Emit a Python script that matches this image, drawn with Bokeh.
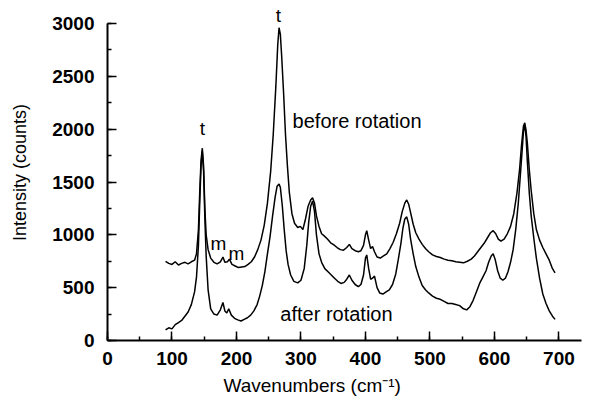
from bokeh.plotting import figure
from bokeh.models import Range1d, SingleIntervalTicker, Title
from bokeh.core.properties import value
from bokeh.embed import file_html
from bokeh.resources import INLINE

# ---- data ----
before_wn = [90, 95, 100, 105, 110, 115, 120, 125, 130, 135, 138, 141, 143, 145, 147, 149, 151, 153, 156, 160,
             165, 170, 175, 179, 182, 186, 189, 193, 198, 203, 208, 213, 218, 223, 228, 233, 238, 243, 248, 253,
             257, 261, 264, 266, 268, 270, 273, 276, 279, 282, 286, 290, 295, 299, 303, 307, 311, 315, 318, 321,
             324, 328, 332, 336, 341, 346, 351, 356, 361, 366, 371, 375, 379, 384, 389, 393, 397, 400, 402, 405,
             408, 411, 414, 418, 423, 428, 433, 438, 443, 448, 453, 457, 461, 464, 467, 470, 474, 478, 483, 488,
             493, 498, 504, 510, 516, 522, 528, 534, 540, 546, 552, 558, 564, 569, 574, 579, 584, 589, 594, 598,
             602, 606, 610, 615, 620, 625, 630, 635, 639, 642, 645, 647, 649, 651, 654, 657, 661, 665, 670, 675,
             680, 685, 690, 694]
before_int = [750, 730, 720, 745, 715, 730, 740, 725, 745, 760, 820, 1050, 1400, 1700, 1820, 1650, 1250, 1000, 860, 780,
              740, 725, 745, 790, 740, 745, 770, 720, 705, 690, 695, 700, 720, 745, 790, 860, 950, 1090, 1300, 1600,
              1950, 2400, 2800, 2960, 2900, 2700, 2350, 1950, 1650, 1400, 1200, 1110, 1070, 1080, 1050, 1150, 1270, 1330, 1350, 1300,
              1180, 1080, 1010, 990, 960, 925, 905, 880, 860, 855, 880, 910, 870, 850, 840, 850, 900, 1000, 1040, 950,
              870, 890, 840, 790, 780, 800, 820, 870, 930, 1010, 1110, 1220, 1300, 1330, 1290, 1210, 1100, 1020, 960, 910,
              870, 840, 810, 795, 785, 770, 760, 755, 745, 740, 735, 750, 770, 800, 840, 880, 920, 970, 1020, 1040,
              1010, 960, 940, 960, 1010, 1080, 1200, 1400, 1620, 1850, 2030, 2060, 1990, 1870, 1620, 1420, 1200, 1050, 950, 880,
              820, 760, 680, 640]

after_wn = [90, 95, 100, 105, 110, 115, 120, 125, 130, 135, 138, 141, 143, 145, 147, 149, 151, 153, 156, 160,
            165, 170, 175, 179, 182, 185, 188, 192, 197, 202, 207, 212, 217, 222, 227, 232, 236, 240, 244, 248,
            252, 256, 260, 263, 266, 268, 271, 274, 277, 280, 284, 289, 295, 300, 305, 309, 312, 315, 318, 321,
            324, 328, 332, 337, 342, 347, 352, 357, 362, 367, 371, 375, 379, 384, 389, 393, 397, 400, 402, 405,
            408, 411, 414, 418, 422, 427, 432, 437, 442, 447, 451, 455, 458, 461, 464, 467, 470, 474, 478, 483,
            488, 493, 498, 504, 510, 516, 522, 528, 534, 540, 546, 552, 557, 562, 567, 572, 577, 582, 587, 591,
            595, 598, 601, 605, 609, 613, 617, 621, 625, 629, 633, 637, 640, 643, 645, 647, 649, 651, 654, 657,
            661, 665, 670, 675, 680, 685, 690, 694]
after_int = [100, 120, 110, 150, 170, 190, 230, 270, 340, 460, 600, 900, 1300, 1650, 1790, 1600, 1150, 800, 480, 300,
             250, 240, 290, 360, 280, 260, 300, 240, 210, 195, 185, 200, 215, 240, 280, 340, 420, 520, 650, 820,
             980, 1180, 1360, 1460, 1480, 1450, 1280, 1050, 850, 720, 620, 560, 545, 570, 680, 900, 1120, 1270, 1320, 1220,
             1000, 820, 740, 680, 650, 620, 590, 560, 540, 550, 580, 620, 570, 530, 510, 530, 620, 780, 810, 680,
             580, 590, 610, 500, 450, 440, 460, 480, 530, 630, 770, 920, 1060, 1150, 1170, 1100, 960, 820, 700, 600,
             520, 480, 450, 420, 400, 390, 370, 350, 350, 340, 330, 300, 290, 320, 380, 460, 540, 600, 660, 740,
             800, 820, 770, 660, 590, 570, 590, 650, 740, 860, 1050, 1300, 1550, 1800, 1980, 2040, 1930, 1700, 1400, 1180,
             970, 780, 590, 440, 350, 280, 230, 200]

peak_labels = ["t", "t", "m", "m"]
peak_x = [147, 265, 172, 200]
peak_y = [2010, 3080, 918, 823]

series_names = ["before rotation", "after rotation"]
series_x = [287, 268]
series_y = [2080, 255]

x_ticks_interval = 100
y_ticks_interval = 500

FONT = "Liberation Sans"

p = figure(width=589, height=410, frame_width=474, frame_height=336,
           x_range=Range1d(0, 735), y_range=Range1d(0, 3180),
           output_backend="svg", toolbar_location=None,
           min_border_left=107, min_border_top=4, min_border_bottom=70, min_border_right=8)
p.outline_line_color = None
p.grid.visible = False
p.background_fill_color = "white"
p.border_fill_color = "white"

p.line(before_wn, before_int, line_color="black", line_width=1.5)
p.line(after_wn, after_int, line_color="black", line_width=1.5)

p.text(x=peak_x, y=peak_y, text=peak_labels, text_font=value(FONT), text_font_size="19px",
       text_align="center", text_baseline="middle", text_color="black")
p.text(x=series_x, y=series_y, text=series_names, text_font=value(FONT), text_font_size="20px",
       text_align="left", text_baseline="middle", text_color="black")

for ax, interval in ((p.xaxis[0], x_ticks_interval), (p.yaxis[0], y_ticks_interval)):
    ax.ticker = SingleIntervalTicker(interval=interval, num_minor_ticks=2)
    ax.axis_line_width = 2
    ax.axis_line_color = "black"
    ax.major_tick_in = 9
    ax.major_tick_out = 0
    ax.minor_tick_in = 4
    ax.minor_tick_out = 0
    ax.major_tick_line_width = 1.5
    ax.minor_tick_line_width = 1.5
    ax.major_label_text_font = FONT
    ax.major_label_text_font_size = "19px"
    ax.major_label_text_font_style = "bold"
    ax.major_label_text_color = "black"
    ax.axis_label_text_font = FONT
    ax.axis_label_text_font_style = "normal"
    ax.axis_label_text_color = "black"

p.yaxis[0].bounds = (0, 3000)
p.xaxis[0].major_label_standoff = 11
p.yaxis[0].major_label_standoff = 13
p.yaxis[0].axis_label = "Intensity (counts)"
p.yaxis[0].axis_label_text_font_size = "18px"
p.yaxis[0].axis_label_standoff = 19

xt = Title(text="Wavenumbers (cm\u207b\u00b9)", align="left", offset=116,
           text_font=FONT, text_font_size="19px", text_font_style="normal", text_color="black")
p.add_layout(xt, "below")

open("out.html", "w").write(file_html(p, INLINE))
